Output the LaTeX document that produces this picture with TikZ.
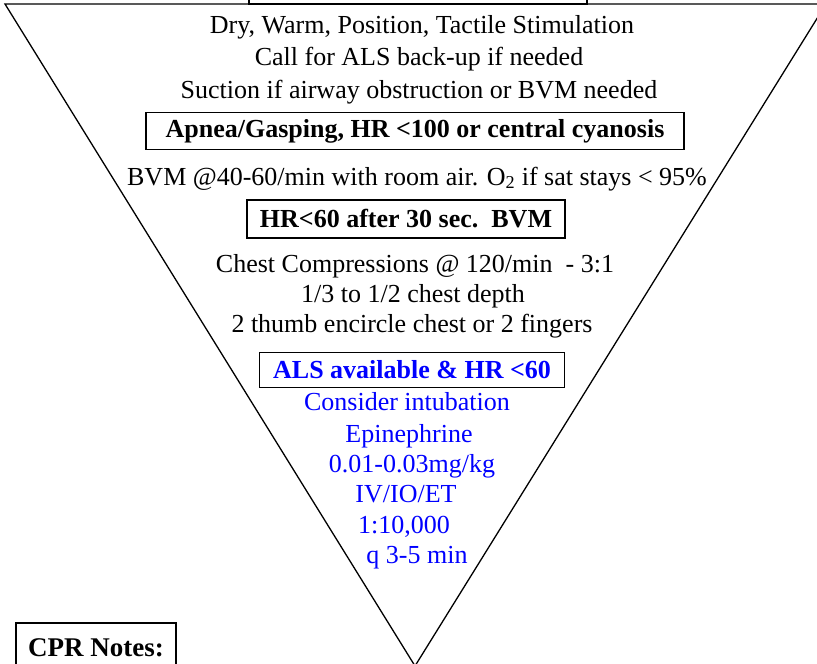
\documentclass[tikz,border=0pt]{standalone}
\usepackage{fontspec}
\setmainfont{Liberation Serif}
\usepackage{xcolor}
\usepackage{tikz}
\usetikzlibrary{positioning}

\begin{document}
\begin{tikzpicture}[
  x=1pt, y=-1pt,
  txt/.style={anchor=base, inner sep=0pt, font=\fontsize{26}{30}\selectfont},
  bluetxt/.style={txt, text=blue},
  stepbox/.style={draw, line width=1.3pt, inner sep=0pt, align=center, font=\bfseries\fontsize{26}{30}\selectfont},
  edge/.style={line width=1.3pt},
  ]
  \useasboundingbox (0,0) rectangle (817,664);

  % funnel
  \coordinate (tl) at (5,4);
  \coordinate (tr) at (826,4);
  \coordinate (tip) at (415,666);
  \draw[edge] (tl) -- (tr) -- (tip) -- cycle;

  % title box, cut off at the top
  \node[stepbox, minimum width=338, minimum height=44] (title) at (418,-18) {};

  % first steps
  \node[txt] (dry)     at (422,33) {Dry, Warm, Position, Tactile Stimulation};
  \node[txt] (call)    at (419,65) {Call for ALS back-up if needed};
  \node[txt] (suction) at (419,98) {Suction if airway obstruction or BVM needed};

  % ventilation
  \node[stepbox, minimum width=538, minimum height=37] (apnea) at (415,131)
    {Apnea/Gasping, HR <100 or central cyanosis};
  \node[txt] (bvm) at (417,185)
    {BVM @40-60/min with room air. O\textsubscript{2} if sat stays < 95\%};

  % compressions
  \node[stepbox, minimum width=318, minimum height=38] (hr) at (406,219)
    {HR<60 after 30 sec.\ \ BVM};
  \node[txt] (chest) at (415,272) {Chest Compressions @ 120/min\ \ - 3:1};
  \node[txt] (depth) at (413,302) {1/3 to 1/2 chest depth};
  \node[txt] (thumb) at (412,332) {2 thumb encircle chest or 2 fingers};

  % ALS
  \node[stepbox, text=blue, minimum width=305, minimum height=35] (als) at (412,370)
    {ALS available \& HR <60};
  \node[bluetxt] (intub) at (407,410) {Consider intubation};
  \node[bluetxt] (epi)   at (409,442) {Epinephrine};
  \node[bluetxt] (dose)  at (412,472) {0.01-0.03mg/kg};
  \node[bluetxt] (route) at (406,502) {IV/IO/ET};
  \node[bluetxt] (conc)  at (404,533) {1:10,000};
  \node[bluetxt] (freq)  at (417,563) {q 3-5 min};

  % notes
  \node[stepbox, minimum width=160, minimum height=50, font=\bfseries\fontsize{27}{30}\selectfont] (cpr) at (96,648)
    {CPR Notes:};
\end{tikzpicture}
\end{document}
